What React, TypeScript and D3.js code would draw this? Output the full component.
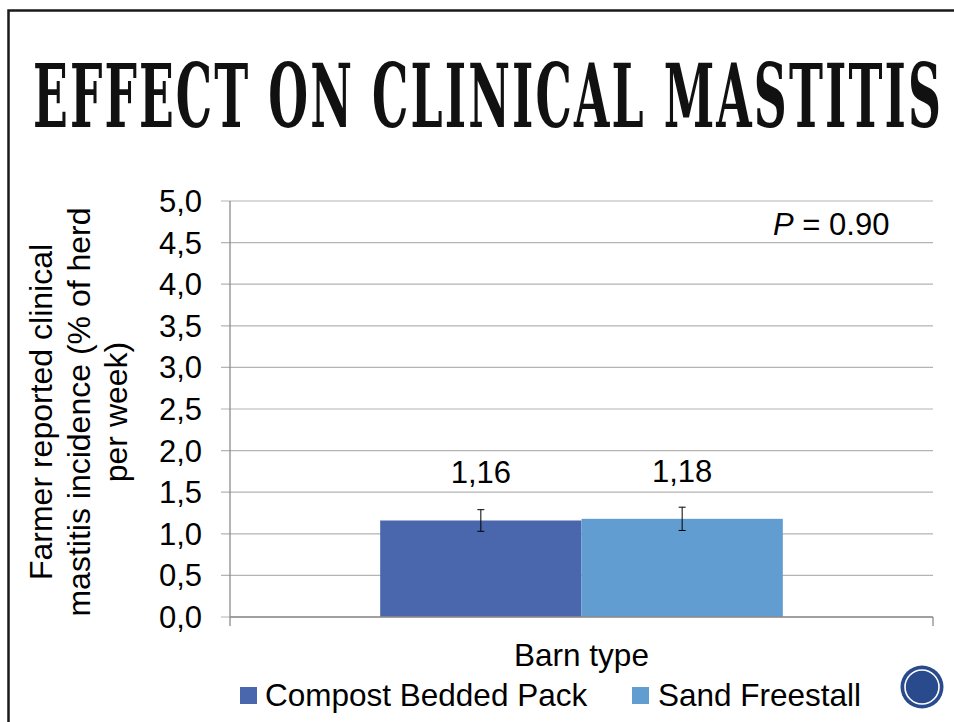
import React, { useEffect, useRef, useState } from "react";
import * as d3 from "d3";

const categories = ["Barn type"];
const seriesNames = ["Compost Bedded Pack", "Sand Freestall"];
const seriesValues = [1.16, 1.18];
const seriesErrors = [0.13, 0.14];
const seriesLabels = ["1,16", "1,18"];
const seriesColors = ["#4A67AE", "#619DD1"];
const yTicks = [0, 0.5, 1, 1.5, 2, 2.5, 3, 3.5, 4, 4.5, 5];
const yTickLabels = ["0,0", "0,5", "1,0", "1,5", "2,0", "2,5", "3,0", "3,5", "4,0", "4,5", "5,0"];
const yTitleLines = ["Farmer reported clinical", "mastitis incidence (% of herd", "per week)"];
const titleText = "EFFECT ON CLINICAL MASTITIS";
const pText = "0.90";

const W = 954;
const H = 722;
const FONT = "'Liberation Sans', Arial, Helvetica, sans-serif";

export default function App() {
  const left = 230;
  const right = 933;
  const top = 201;
  const bottom = 617;

  const titleRef = useRef<SVGTextElement>(null);
  const [titleScale, setTitleScale] = useState(0.62);
  useEffect(() => {
    const el = titleRef.current;
    if (el) {
      const len = el.getComputedTextLength();
      if (len > 0) setTitleScale(910 / len);
    }
  }, []);

  const y = d3.scaleLinear().domain([0, 5]).range([bottom, top]);
  const x0 = d3.scaleBand<string>().domain(categories).range([left, right]).paddingInner(0).paddingOuter(0.373);
  const x1 = d3.scaleBand<string>().domain(seriesNames).range([0, x0.bandwidth()]).padding(0);

  const fs = 31;
  const fsL = 31.5;

  return (
    <svg width={W} height={H} style={{ position: "absolute", left: 0, top: 0, display: "block" }}>
      <rect x={0} y={0} width={W} height={H} fill="#ffffff" />
      {/* slide frame */}
      <path d={`M8.5,${H + 5} L8.5,10.5 L${W + 5},10.5`} fill="none" stroke="#1a1a1a" strokeWidth={2.5} />

      {/* title */}
      <g transform={`translate(33,127) scale(${titleScale},1)`}>
        <text
          ref={titleRef}
          x={0}
          y={0}
          fontFamily="'DejaVu Serif', serif"
          fontWeight="bold"
          fontSize={88}
          letterSpacing={4}
          fill="#111"
        >
          {titleText}
        </text>
      </g>

      {/* gridlines */}
      {yTicks.map((t) => (
        <line key={"g" + t} x1={left - 9} x2={right} y1={y(t)} y2={y(t)} stroke="#b4b4b4" strokeWidth={1.2} />
      ))}
      {/* tick labels */}
      {yTicks.map((t, i) => (
        <text key={"t" + t} x={202} y={y(t) + 11} textAnchor="end" fontFamily={FONT} fontSize={fs} fill="#000">
          {yTickLabels[i]}
        </text>
      ))}

      {/* bars */}
      {categories.map((c) => (
        <g key={c} transform={`translate(${x0(c)},0)`}>
          {seriesNames.map((s, i) => {
            const bx = x1(s) as number;
            const bw = x1.bandwidth();
            const cx = bx + bw / 2;
            const v = seriesValues[i];
            const e = seriesErrors[i];
            return (
              <g key={s}>
                <rect x={bx} y={y(v)} width={bw} height={y(0) - y(v)} fill={seriesColors[i]} />
                <line x1={cx} x2={cx} y1={y(v + e)} y2={y(v - e)} stroke="#000" strokeWidth={1} />
                <line x1={cx - 3.5} x2={cx + 3.5} y1={y(v + e)} y2={y(v + e)} stroke="#000" strokeWidth={1} />
                <line x1={cx - 3.5} x2={cx + 3.5} y1={y(v - e)} y2={y(v - e)} stroke="#000" strokeWidth={1} />
                <text x={cx} y={y(v) - 37} textAnchor="middle" fontFamily={FONT} fontSize={fs} fill="#000">
                  {seriesLabels[i]}
                </text>
              </g>
            );
          })}
        </g>
      ))}

      {/* axes */}
      <line x1={left} x2={left} y1={top} y2={bottom + 9} stroke="#8c8c8c" strokeWidth={1.3} />
      <line x1={left} x2={right} y1={bottom} y2={bottom} stroke="#8c8c8c" strokeWidth={1.3} />
      <line x1={right} x2={right} y1={bottom} y2={bottom + 9} stroke="#8c8c8c" strokeWidth={1.3} />

      {/* P value */}
      <text x={773} y={235} fontFamily={FONT} fontSize={fs} fill="#000">
        <tspan fontStyle="italic">P</tspan>
        <tspan> = {pText}</tspan>
      </text>

      {/* y title */}
      <g transform={`translate(0,412) rotate(-90)`}>
        {yTitleLines.map((l, i) => (
          <text key={l} x={0} y={52 + i * 37.5} textAnchor="middle" fontFamily={FONT} fontSize={32} fill="#000">
            {l}
          </text>
        ))}
      </g>

      {/* x title */}
      <text x={(left + right) / 2} y={666} textAnchor="middle" fontFamily={FONT} fontSize={fsL} fill="#000">
        {categories[0]}
      </text>

      {/* legend */}
      <rect x={240} y={687} width={17} height={17} fill={seriesColors[0]} />
      <text x={265} y={705.5} fontFamily={FONT} fontSize={fsL} fill="#000">
        {seriesNames[0]}
      </text>
      <rect x={632} y={687} width={17} height={17} fill={seriesColors[1]} />
      <text x={658} y={705.5} fontFamily={FONT} fontSize={fsL} fill="#000">
        {seriesNames[1]}
      </text>

      {/* slide decoration */}
      <circle cx={922} cy={687} r={21.5} fill="#2A4A8E" />
      <circle cx={922} cy={687} r={17} fill="none" stroke="#ffffff" strokeWidth={1.6} />
    </svg>
  );
}
